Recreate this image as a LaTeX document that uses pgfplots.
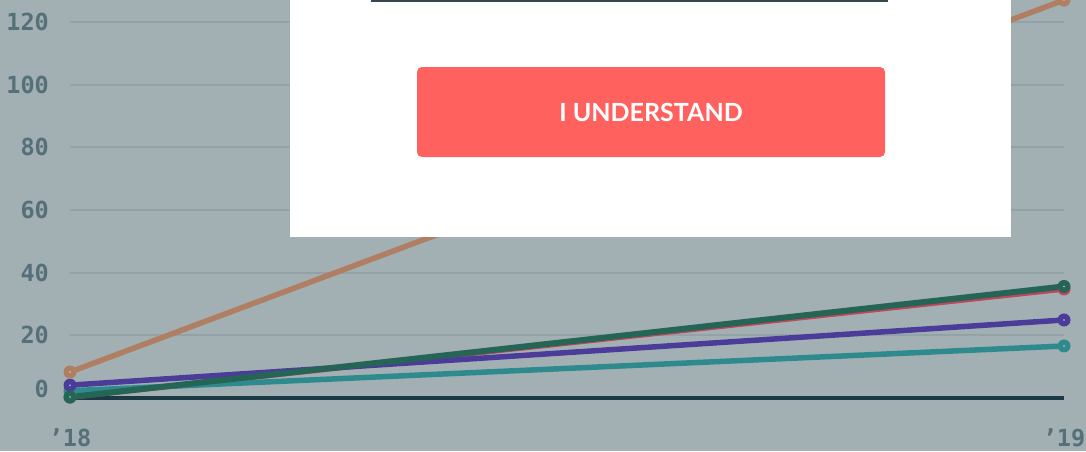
\documentclass[border=0pt]{standalone}
\usepackage{pgfplots}
\pgfplotsset{compat=1.18}
\usepackage{fontspec}
\newfontfamily\monofont{DejaVu Sans Mono}
\newfontfamily\btnfont{Lato}
\definecolor{bgc}{HTML}{A2B0B4}
\definecolor{gridc}{HTML}{93A2A7}
\definecolor{txtc}{HTML}{56707A}
\definecolor{tanc}{HTML}{B07E62}
\definecolor{greenc}{HTML}{256556}
\definecolor{purplec}{HTML}{4B3C9A}
\definecolor{tealc}{HTML}{2E8A8C}
\definecolor{navyc}{HTML}{1C3A44}
\definecolor{redc}{HTML}{C0465A}
\definecolor{darkc}{HTML}{37474F}
\definecolor{btnc}{HTML}{FF625E}
\definecolor{dotc}{HTML}{C8D0D3}
\pgfdeclareplotmark{ringdot}{%
  \pgfpathcircle{\pgfpointorigin}{\pgfplotmarksize}\pgfusepathqfill
  \begin{pgfscope}%
  \pgfsetfillcolor{dotc}%
  \pgfpathcircle{\pgfpointorigin}{0.9pt}\pgfusepathqfill
  \end{pgfscope}}
\begin{document}
\begin{tikzpicture}
\useasboundingbox (0pt,0pt) rectangle (1086pt,451pt);
\clip (0pt,0pt) rectangle (1086pt,451pt);
\fill[bgc] (0pt,0pt) rectangle (1086pt,451pt);
\begin{axis}[
  at={(70pt,53pt)}, anchor=south west, scale only axis,
  width=994pt, height=376pt,
  xmin=0, xmax=1, ymin=0, ymax=120, clip=false,
  axis line style={draw=none}, major tick length=0pt,
  xtick={0,1}, xticklabels={’18,’19},
  ytick={20,40,60,80,100,120}, yticklabels={20,40,60,80,100,120},
  ymajorgrids, grid style={gridc, line width=2pt},
  ticklabel style={font=\monofont\bfseries\fontsize{23.5}{23.5}\selectfont, text=txtc, inner sep=0pt},
  yticklabel style={anchor=east, xshift=-21pt},
  xticklabel style={anchor=north, yshift=-30pt},
  extra y ticks={0}, extra y tick labels={0},
  extra y tick style={yticklabel style={yshift=9pt}, grid=none},
  mark size=6.5pt,
  every axis plot/.append style={mark=ringdot, mark options={solid}},
]
\addplot[navyc, line width=4pt, no marks] coordinates {(0,0) (1,0)};
\addplot[tanc, line width=5.5pt] coordinates {(0,8.3) (1,127)};
\addplot[redc, line width=5.5pt] coordinates {(0,0.3) (1,34.8)};
\addplot[tealc, line width=5.5pt] coordinates {(0,2.3) (1,16.6)};
\addplot[purplec, line width=5.5pt] coordinates {(0,4.1) (1,24.9)};
\addplot[greenc, line width=6pt] coordinates {(0,0.3) (1,35.6)};
\end{axis}
\fill[white] (290pt,214pt) rectangle (1011pt,451pt);
\fill[darkc] (371pt,449pt) rectangle (888pt,451pt);
\fill[btnc, rounded corners=5pt] (417pt,294pt) rectangle (885pt,384pt);
\node[text=white, font=\btnfont\bfseries\fontsize{25}{25}\selectfont, inner sep=0pt] at (651pt,339pt) {I UNDERSTAND};
\end{tikzpicture}
\end{document}
